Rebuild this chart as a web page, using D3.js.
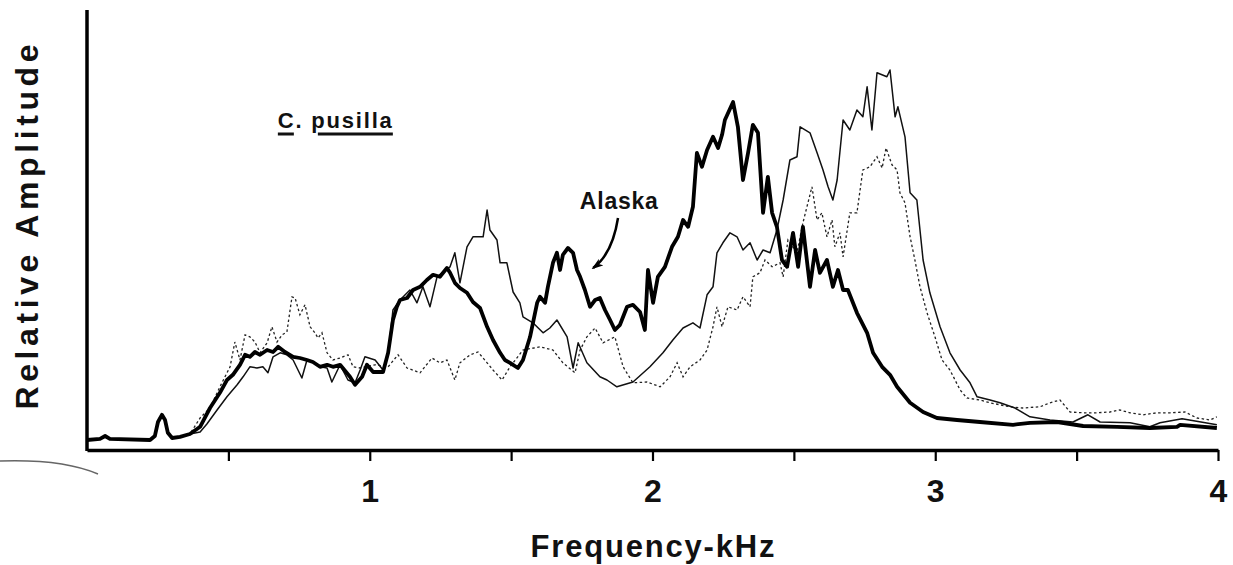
<!DOCTYPE html>
<html>
<head>
<meta charset="utf-8">
<script src="https://cdn.jsdelivr.net/npm/d3@7"></script>
<style>
  body { margin: 0; background: #fff; }
  text { font-family: "Liberation Sans", Arial, Helvetica, sans-serif; font-weight: bold; fill: #111; }
</style>
</head>
<body>
<div id="chart"></div>
<script>
// frequency (kHz), relative amplitude (0-110, axis top = 110)
var startShared = [[0.0,2.5],[0.046,2.8],[0.064,3.5],[0.081,2.8],[0.223,2.5],[0.24,3.5],[0.251,7],[0.265,8.8],
  [0.276,7.5],[0.286,4.3],[0.301,3],[0.329,3.3],[0.364,4]];

var alaska = [[0.400,5.8],[0.435,10.5],[0.470,14.3],[0.495,17.5],[0.516,18.8],[0.541,21.3],[0.559,23.8],[0.576,23.3],
  [0.594,24.5],[0.612,23.8],[0.637,25],[0.658,24.5],[0.676,25.8],[0.700,24.5],[0.729,23.3],[0.753,23],[0.778,22.5],
  [0.799,22],[0.824,20.8],[0.849,21.3],[0.870,20.8],[0.895,21.3],[0.930,18.3],[0.948,16.3],[0.973,18.3],[0.990,21.3],
  [1.012,19.5],[1.047,19.5],[1.065,24.3],[1.082,32.5],[1.096,35.8],[1.107,37.5],[1.132,38],[1.153,40],[1.178,40.8],
  [1.202,42.5],[1.224,43.8],[1.248,43.3],[1.273,45.5],[1.284,44.3],[1.301,41.8],[1.319,40.5],[1.344,39.3],[1.365,37],
  [1.390,35.5],[1.415,30.8],[1.436,27.5],[1.461,24.3],[1.478,22.5],[1.496,21.8],[1.524,20.5],[1.542,22.5],[1.567,28.3],
  [1.592,36.8],[1.602,38.3],[1.620,36.8],[1.630,40.8],[1.648,46.8],[1.662,49.3],[1.673,45],[1.683,48.8],[1.701,50.5],
  [1.719,49.3],[1.733,45],[1.744,43.3],[1.761,40],[1.779,35.8],[1.797,37.5],[1.814,38],[1.832,35],[1.850,32.5],
  [1.867,30],[1.885,31.3],[1.910,35.8],[1.931,36.3],[1.956,34.5],[1.973,30],[1.984,45],[2.002,36.8],[2.019,43.3],
  [2.044,45.8],[2.069,50.8],[2.090,53.3],[2.108,57.5],[2.126,55.8],[2.143,60.8],[2.157,74.3],[2.175,70.8],[2.193,75],
  [2.214,78.3],[2.232,75.5],[2.246,78.8],[2.256,82.5],[2.285,87],[2.302,80.8],[2.320,67.5],[2.338,74.3],[2.355,81.3],
  [2.373,79.3],[2.391,59.3],[2.408,68.3],[2.423,59.3],[2.440,55.8],[2.458,47.5],[2.476,45.8],[2.497,54.3],[2.515,45.8],
  [2.532,55.8],[2.557,40.8],[2.575,50],[2.592,44.3],[2.617,47.5],[2.638,40.8],[2.656,45],[2.674,40],[2.691,40],
  [2.723,34.3],[2.759,29.3],[2.780,24.3],[2.812,20.8],[2.840,18.8],[2.865,15.8],[2.911,11.8],[2.957,9.5],[3.006,8],
  [3.077,7.5],[3.158,7],[3.275,6.3],[3.335,6.8],[3.431,7],[3.523,6],[3.643,5.8],[3.759,5.5],[3.855,5.8],[3.866,6.3],
  [3.996,5.5]];

var solidPop = [[0.400,4.5],[0.424,6.5],[0.460,10],[0.495,13.3],[0.531,16.3],[0.552,18.3],[0.576,20.8],[0.601,20.5],
  [0.622,20.8],[0.640,19.3],[0.658,23.3],[0.683,24.3],[0.707,23.8],[0.729,22.5],[0.760,18],[0.778,22.5],[0.799,22],
  [0.824,20.8],[0.849,20.5],[0.866,17],[0.895,21.3],[0.923,17.5],[0.948,16.8],[0.966,20],[0.983,23.3],[1.019,22.5],
  [1.047,20],[1.065,23.8],[1.082,35],[1.107,37.5],[1.142,40],[1.167,36.8],[1.188,40.8],[1.213,35.8],[1.238,43.3],
  [1.284,45.8],[1.301,49.3],[1.319,41.8],[1.344,50.8],[1.365,53.3],[1.401,53.3],[1.415,60],[1.425,55],[1.450,52.5],
  [1.461,46.8],[1.485,46.8],[1.507,39.5],[1.531,36.8],[1.542,33.3],[1.577,31.8],[1.613,29.3],[1.637,30.5],[1.662,32.5],
  [1.698,28.3],[1.719,20.5],[1.737,26.8],[1.768,21.8],[1.814,18.3],[1.839,17.5],[1.874,15.8],[1.931,17],[1.991,20.8],
  [2.037,24.3],[2.072,27.5],[2.108,30.5],[2.143,31.8],[2.168,30.5],[2.193,38.8],[2.214,40.8],[2.228,49.3],[2.249,51.8],
  [2.274,54.3],[2.299,53.3],[2.320,50],[2.345,51.8],[2.370,47.5],[2.391,50],[2.416,49.3],[2.440,55],[2.462,62.5],
  [2.486,72.5],[2.511,73.3],[2.522,80.8],[2.557,79.3],[2.582,74.3],[2.603,70],[2.621,65.8],[2.638,62.5],[2.653,67.5],
  [2.674,82.5],[2.698,80],[2.723,85],[2.744,83.3],[2.759,90.8],[2.776,80],[2.794,94.3],[2.829,93.3],[2.840,95],
  [2.858,83.3],[2.868,85.8],[2.893,78.3],[2.911,64.3],[2.935,62.5],[2.957,47.5],[2.981,39.3],[3.017,30.8],[3.052,24.3],
  [3.088,20],[3.123,16.8],[3.148,13.3],[3.194,12.5],[3.229,11.8],[3.282,10.5],[3.335,8.3],[3.406,7.5],[3.487,7],
  [3.540,8.8],[3.583,7],[3.689,6.8],[3.759,5.8],[3.795,6.8],[3.873,7.8],[3.996,6.3]];

var dottedPop = [[0.400,8],[0.435,10.5],[0.470,15.8],[0.506,20.8],[0.523,27],[0.541,22.5],[0.559,28.8],[0.576,28.3],
  [0.594,27],[0.612,24.3],[0.637,26.8],[0.654,30.8],[0.672,27],[0.690,28.8],[0.707,29.5],[0.725,38.3],[0.736,38],
  [0.753,33.8],[0.771,36.3],[0.789,30.8],[0.806,29.3],[0.817,28],[0.831,29.3],[0.849,24.3],[0.870,22.5],[0.895,23],
  [0.923,23.8],[0.941,20.8],[0.966,20.5],[1.019,21.3],[1.065,20.8],[1.100,23.8],[1.132,20.5],[1.178,19.3],[1.220,23],
  [1.248,21.8],[1.273,22.5],[1.301,17.5],[1.319,21.8],[1.355,23.8],[1.383,24.5],[1.415,21.8],[1.436,20],[1.468,17.5],
  [1.496,20.8],[1.542,25],[1.602,25.8],[1.648,25],[1.683,21.8],[1.726,19.3],[1.744,25],[1.768,28.3],[1.797,30.5],
  [1.825,26.8],[1.867,28.3],[1.896,20.8],[1.931,16.8],[1.981,17],[2.027,15.8],[2.062,18.3],[2.087,21.8],[2.108,18.3],
  [2.133,20.8],[2.168,22.5],[2.193,25],[2.214,30.8],[2.228,35.8],[2.246,30.8],[2.267,35.8],[2.299,35],[2.320,38.3],
  [2.345,35.8],[2.355,43.3],[2.380,44.3],[2.398,47.5],[2.423,45.8],[2.451,46.8],[2.462,43.3],[2.479,52.5],[2.511,49.3],
  [2.532,56.8],[2.564,65.8],[2.582,57.5],[2.599,59.3],[2.617,53.3],[2.635,57.5],[2.645,50.8],[2.663,54.3],[2.674,48.3],
  [2.698,59.3],[2.723,59.3],[2.744,70],[2.769,70.8],[2.794,73.3],[2.812,70.5],[2.826,75.5],[2.847,71.3],[2.865,70],
  [2.875,64.3],[2.893,61.8],[2.911,53.3],[2.928,47.5],[2.946,40.8],[2.971,34.3],[2.999,28.3],[3.024,22.5],[3.052,20],
  [3.088,15],[3.112,13],[3.158,12.5],[3.194,11.8],[3.229,11.3],[3.264,10.8],[3.310,10.5],[3.370,10.8],[3.406,11.8],
  [3.441,12.5],[3.477,9.5],[3.523,9.3],[3.572,9.3],[3.618,9.5],[3.653,10],[3.689,9.3],[3.735,8.8],[3.784,9.3],
  [3.830,9.3],[3.883,9.5],[3.926,8],[3.972,7.5],[3.996,8.3]];

var tickValues = [0.5, 1, 1.5, 2, 2.5, 3, 3.5, 4];
var tickLabels = {1: "1", 2: "2", 3: "3", 4: "4"};

var width = 1233;
var height = 565;

var svg = d3.select('#chart')
  .append('svg')
  .attr('width', width)
  .attr('height', height);

var x = d3.scaleLinear().domain([0, 4]).range([87, 1218]);
var y = d3.scaleLinear().domain([0, 110]).range([450, 10]);

var line = d3.line()
  .x(function(d) { return x(d[0]); })
  .y(function(d) { return y(d[1]); });

// dotted first, then thin, then the heavy Alaska trace on top
svg.append('path')
  .attr('d', line(startShared.concat(dottedPop)))
  .attr('fill', 'none')
  .attr('stroke', '#222')
  .attr('stroke-width', 1.3)
  .attr('stroke-dasharray', '2.5,2.5');

svg.append('path')
  .attr('d', line(startShared.concat(solidPop)))
  .attr('fill', 'none')
  .attr('stroke', '#111')
  .attr('stroke-width', 1.5)
  .attr('stroke-linejoin', 'round');

svg.append('path')
  .attr('d', line(startShared.concat(alaska)))
  .attr('fill', 'none')
  .attr('stroke', '#000')
  .attr('stroke-width', 3.8)
  .attr('stroke-linejoin', 'round');

// axes
var xAxis = d3.axisBottom(x)
  .tickValues(tickValues)
  .tickSize(11)
  .tickSizeOuter(0)
  .tickPadding(18)
  .tickFormat(function(d) { return tickLabels[d] || ''; });

var gx = svg.append('g')
  .attr('transform', 'translate(0,' + y(0) + ')')
  .call(xAxis);
gx.select('.domain').attr('stroke', '#000').attr('stroke-width', 3.5);
gx.selectAll('.tick line').attr('stroke', '#000').attr('stroke-width', 2.2);
gx.selectAll('.tick text')
  .style('font-size', '32px')
  .style('font-family', '"Liberation Sans", Arial, sans-serif')
  .style('font-weight', 'bold')
  .attr('fill', '#111');

svg.append('line')
  .attr('x1', x(0)).attr('x2', x(0))
  .attr('y1', y(0) + 1).attr('y2', y(110))
  .attr('stroke', '#000')
  .attr('stroke-width', 3.5);

// axis titles
svg.append('text')
  .attr('transform', 'translate(38,' + 227 + ') rotate(-90)')
  .attr('text-anchor', 'middle')
  .attr('textLength', 365)
  .attr('lengthAdjust', 'spacing')
  .style('font-size', '32px')
  .text('Relative Amplitude');

svg.append('text')
  .attr('x', x(2))
  .attr('y', 557)
  .attr('text-anchor', 'middle')
  .attr('textLength', 244)
  .attr('lengthAdjust', 'spacing')
  .style('font-size', '31px')
  .text('Frequency-kHz');

// species label with underlines
var spX = x(0.675), spY = y(80.5);
svg.append('text')
  .attr('x', spX)
  .attr('y', spY)
  .attr('textLength', 114)
  .attr('lengthAdjust', 'spacing')
  .style('font-size', '22px')
  .text('C. pusilla');
svg.append('line')
  .attr('x1', spX).attr('x2', spX + 16)
  .attr('y1', spY + 6).attr('y2', spY + 6)
  .attr('stroke', '#111').attr('stroke-width', 3);
svg.append('line')
  .attr('x1', spX + 40).attr('x2', spX + 115)
  .attr('y1', spY + 6).attr('y2', spY + 6)
  .attr('stroke', '#111').attr('stroke-width', 3);

// Alaska annotation + curved arrow
var note = { label: [1.881, 60.3], from: [1.878, 58], ctrl: [1.858, 49], to: [1.79, 45.5] };
svg.append('text')
  .attr('x', x(note.label[0]))
  .attr('y', y(note.label[1]))
  .attr('text-anchor', 'middle')
  .attr('textLength', 78)
  .attr('lengthAdjust', 'spacing')
  .style('font-size', '23px')
  .text('Alaska');

svg.append('defs').append('marker')
  .attr('id', 'head')
  .attr('viewBox', '0 0 12 8')
  .attr('refX', 10).attr('refY', 4)
  .attr('markerWidth', 12).attr('markerHeight', 8)
  .attr('markerUnits', 'userSpaceOnUse')
  .attr('orient', 'auto')
  .append('path')
  .attr('d', 'M0,0 L12,4 L0,8 L3,4 Z')
  .attr('fill', '#000');

var arrowPath = d3.path();
arrowPath.moveTo(x(note.from[0]), y(note.from[1]));
arrowPath.quadraticCurveTo(x(note.ctrl[0]), y(note.ctrl[1]), x(note.to[0]), y(note.to[1]));
svg.append('path')
  .attr('d', arrowPath.toString())
  .attr('fill', 'none')
  .attr('stroke', '#000')
  .attr('stroke-width', 2.5)
  .attr('marker-end', 'url(#head)');

// scanner smudge at the lower left
svg.append('path')
  .attr('d', 'M0,461 C30,460 70,462 98,474')
  .attr('fill', 'none')
  .attr('stroke', '#666')
  .attr('stroke-width', 1.4);
</script>
</body>
</html>
